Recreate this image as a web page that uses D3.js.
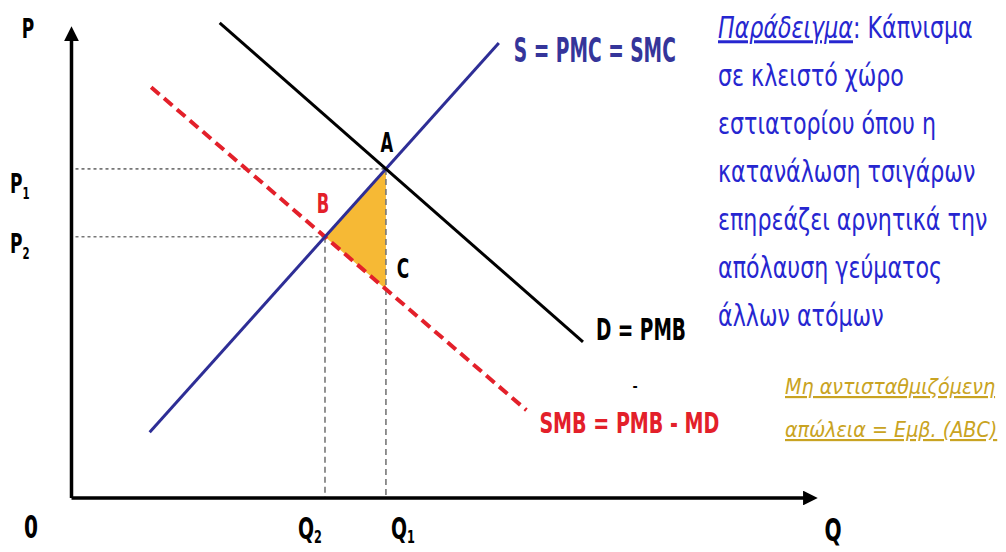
<!DOCTYPE html>
<html><head><meta charset="utf-8">
<script src="https://cdn.jsdelivr.net/npm/d3@7"></script>
<style>
html,body{margin:0;padding:0;background:#fff;}
svg{display:block;}
</style></head>
<body>
<svg id="c" width="1006" height="552"></svg>
<script>
// ---- data (chart units: Q and P on 0..100) ----
const supplyQ = [10.5, 57.4];
const supplyP = [14.0, 96.8];
const demandQ = [19.9, 68.7];
const demandP = [101.1, 33.2];
const smbQ = [10.7, 61.1];
const smbP = [87.4, 18.7];
const curveLabels = ["S = PMC = SMC", "D = PMB", "SMB = PMB - MD"];
const pointLabels = ["A", "B", "C"];
const textLines = ["σε κλειστό χώρο", "εστιατορίου όπου η", "κατανάλωση τσιγάρων",
                   "επηρεάζει αρνητικά την", "απόλαυση γεύματος", "άλλων ατόμων"];
const lossLines = ["Μη αντισταθμιζόμενη", "απώλεια = Εμβ. (ABC)"];

const svg = d3.select("#c");
const x = d3.scaleLinear().domain([0, 100]).range([71.5, 816]);
const y = d3.scaleLinear().domain([0, 100]).range([498, 28]);
const F = "'DejaVu Sans Condensed','DejaVu Sans',sans-serif";

function lineFn(qs, ps) {
  const m = (ps[1] - ps[0]) / (qs[1] - qs[0]);
  return q => ps[0] + m * (q - qs[0]);
}
function intersect(q1, p1, q2, p2) {
  const m1 = (p1[1] - p1[0]) / (q1[1] - q1[0]);
  const m2 = (p2[1] - p2[0]) / (q2[1] - q2[0]);
  const b1 = p1[0] - m1 * q1[0], b2 = p2[0] - m2 * q2[0];
  const q = (b2 - b1) / (m1 - m2);
  return [q, m1 * q + b1];
}
const A = intersect(supplyQ, supplyP, demandQ, demandP);
const B = intersect(supplyQ, supplyP, smbQ, smbP);
const C = [A[0], lineFn(smbQ, smbP)(A[0])];

// triangle ABC
svg.append("path")
  .attr("d", d3.line().x(d => x(d[0])).y(d => y(d[1]))([A, B, C]) + "Z")
  .attr("fill", "#f6b935");

// guide lines
const g = svg.append("g").attr("stroke", "#777").attr("stroke-width", 1.6).attr("fill", "none");
g.append("line").attr("x1", x(0) + 4).attr("x2", x(A[0])).attr("y1", y(A[1])).attr("y2", y(A[1])).attr("stroke-dasharray", "3,3");
g.append("line").attr("x1", x(0) + 4).attr("x2", x(B[0])).attr("y1", y(B[1])).attr("y2", y(B[1])).attr("stroke-dasharray", "3,3");
g.append("line").attr("x1", x(A[0])).attr("x2", x(A[0])).attr("y1", y(A[1])).attr("y2", y(0)).attr("stroke-dasharray", "6,4");
g.append("line").attr("x1", x(B[0])).attr("x2", x(B[0])).attr("y1", y(B[1])).attr("y2", y(0)).attr("stroke-dasharray", "6,4");

// curves
svg.append("line").attr("x1", x(smbQ[0])).attr("y1", y(smbP[0])).attr("x2", x(smbQ[1])).attr("y2", y(smbP[1]))
  .attr("stroke", "#e3202a").attr("stroke-width", 4).attr("stroke-dasharray", "11,6");
svg.append("line").attr("x1", x(supplyQ[0])).attr("y1", y(supplyP[0])).attr("x2", x(supplyQ[1])).attr("y2", y(supplyP[1]))
  .attr("stroke", "#2e2e96").attr("stroke-width", 3);
svg.append("line").attr("x1", x(demandQ[0])).attr("y1", y(demandP[0])).attr("x2", x(demandQ[1])).attr("y2", y(demandP[1]))
  .attr("stroke", "#000").attr("stroke-width", 3);

// axes
svg.append("defs").append("marker").attr("id", "arr").attr("viewBox", "0 0 10 10")
  .attr("refX", 2).attr("refY", 5).attr("markerWidth", 4.2).attr("markerHeight", 4.2)
  .attr("orient", "auto").append("path").attr("d", "M0,0L10,5L0,10Z").attr("fill", "#000");
svg.append("path").attr("d", `M${x(0)},${y(0)}L${x(0)},${y(100) + 10}`)
  .attr("stroke", "#000").attr("stroke-width", 3.5).attr("fill", "none").attr("marker-end", "url(#arr)");
svg.append("path").attr("d", `M${x(0)},${y(0)}L${x(100) - 10},${y(0)}`)
  .attr("stroke", "#000").attr("stroke-width", 3.5).attr("fill", "none").attr("marker-end", "url(#arr)");

// narrow bold label helper (text is horizontally condensed like the reference)
const SX = 0.7;
function lab(t, px, py, opts = {}) {
  const el = svg.append("text")
    .attr("transform", `translate(${px},${py}) scale(${opts.sx || SX},1)`)
    .attr("font-family", F).attr("font-weight", "bold").attr("font-size", opts.size || 28)
    .attr("fill", opts.fill || "#000").attr("text-anchor", opts.anchor || "middle");
  el.append("tspan").text(t);
  if (opts.sub) el.append("tspan").text(opts.sub).attr("font-size", (opts.size || 28) * 0.6).attr("dy", opts.dy || 6);
  if (opts.width) {
    const w = el.node().getComputedTextLength();
    el.attr("transform", `translate(${px},${py}) scale(${opts.width / w},1)`);
  }
  return el;
}
lab("P", 28, 38, { size: 27 });
lab("0", 31, 538, { size: 32 });
lab("Q", 833, 541, { size: 32 });
lab("P", 10, 193, { size: 27, sub: "1", anchor: "start" });
lab("P", 10, 253, { size: 27, sub: "2", anchor: "start" });
lab("Q", x(B[0]) - 27, 539, { size: 30, sub: "2", anchor: "start", dy: 4 });
lab("Q", x(A[0]) + 5, 539, { size: 30, sub: "1", anchor: "start", dy: 4 });

// point labels
lab(pointLabels[0], x(A[0]) + 1, y(A[1]) - 17, { size: 26 });
lab(pointLabels[1], x(B[0]) - 2, y(B[1]) - 24, { size: 26, fill: "#e3202a" });
lab(pointLabels[2], x(A[0]) + 17, y(C[1]) - 11, { size: 27 });

// curve labels
lab(curveLabels[0], x(supplyQ[1]) + 15, y(supplyP[1]) + 19, { size: 33, anchor: "start", fill: "#35359a", width: 162 });
lab(curveLabels[1], x(demandQ[1]) + 13, y(demandP[1]) - 2, { size: 31, anchor: "start", width: 90 });
lab(curveLabels[2], x(smbQ[1]) + 13, y(smbP[1]) + 23, { size: 29, anchor: "start", fill: "#e3202a", width: 180 });
svg.append("text").attr("x", 635).attr("y", 391).text("-").attr("font-family", F).attr("font-weight", "bold")
  .attr("font-size", 14).attr("text-anchor", "middle");

// example text
const TF = "'DejaVu Sans',sans-serif";
const blue = "#2626d0";
const FS = 30, TSX = 0.74;
function gText(yy) {
  return svg.append("text").attr("transform", `translate(718,${yy}) scale(${TSX},1)`)
    .attr("font-family", TF).attr("font-size", FS).attr("fill", blue);
}
const t0 = gText(38);
t0.append("tspan").text("Παράδειγμα").attr("font-style", "italic").attr("text-decoration", "underline");
t0.append("tspan").text(": Κάπνισμα");
textLines.forEach((s, i) => { gText(38 + 48 * (i + 1)).text(s); });
lossLines.forEach((s, i) => {
  svg.append("text").attr("transform", `translate(785,${394 + 43 * i}) scale(0.99,1)`).text(s)
    .attr("font-family", F).attr("font-size", 21.5).attr("font-style", "italic")
    .attr("text-decoration", "underline").attr("fill", "#c9a322");
});
</script>
</body></html>
